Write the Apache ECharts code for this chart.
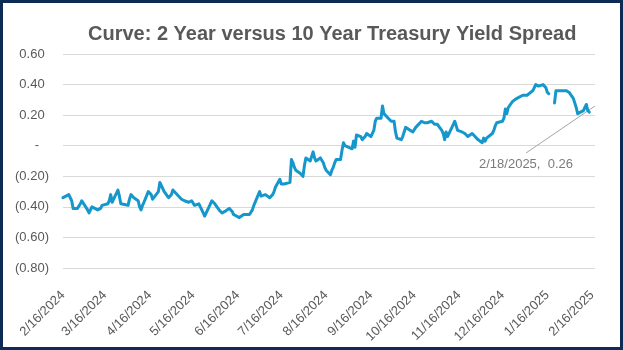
<!DOCTYPE html>
<html><head><meta charset="utf-8">
<script src="https://cdn.jsdelivr.net/npm/echarts@6/dist/echarts.min.js"></script>
<style>
html,body{margin:0;padding:0;background:#fff}
#c{width:623px;height:350px;position:absolute;left:0;top:0}
#frame{position:absolute;left:0;top:0;width:623px;height:350px;box-sizing:border-box;border:3px solid #0D2B55;pointer-events:none}
</style></head><body><div id="c"></div><div id="frame"></div>
<script>
const titleText = 'Curve: 2 Year versus 10 Year Treasury Yield Spread';

const dates = [
'2024-02-16','2024-02-20','2024-02-21','2024-02-22','2024-02-23','2024-02-26','2024-02-27','2024-02-28','2024-02-29',
'2024-03-01','2024-03-04','2024-03-05','2024-03-06','2024-03-07','2024-03-08','2024-03-11','2024-03-12','2024-03-13','2024-03-14','2024-03-15','2024-03-18','2024-03-19','2024-03-20','2024-03-21','2024-03-22','2024-03-25','2024-03-26','2024-03-27','2024-03-28',
'2024-04-01','2024-04-02','2024-04-03','2024-04-04','2024-04-05','2024-04-08','2024-04-09','2024-04-10','2024-04-11','2024-04-12','2024-04-15','2024-04-16','2024-04-17','2024-04-18','2024-04-19','2024-04-22','2024-04-23','2024-04-24','2024-04-25','2024-04-26','2024-04-29','2024-04-30',
'2024-05-01','2024-05-02','2024-05-03','2024-05-06','2024-05-07','2024-05-08','2024-05-09','2024-05-10','2024-05-13','2024-05-14','2024-05-15','2024-05-16','2024-05-17','2024-05-20','2024-05-21','2024-05-22','2024-05-23','2024-05-24','2024-05-28','2024-05-29','2024-05-30','2024-05-31',
'2024-06-03','2024-06-04','2024-06-05','2024-06-06','2024-06-07','2024-06-10','2024-06-11','2024-06-12','2024-06-13','2024-06-14','2024-06-17','2024-06-18','2024-06-20','2024-06-21','2024-06-24','2024-06-25','2024-06-26','2024-06-27','2024-06-28',
'2024-07-01','2024-07-02','2024-07-03','2024-07-05','2024-07-08','2024-07-09','2024-07-10','2024-07-11','2024-07-12','2024-07-15','2024-07-16','2024-07-17','2024-07-18','2024-07-19','2024-07-22','2024-07-23','2024-07-24','2024-07-25','2024-07-26','2024-07-29','2024-07-30','2024-07-31',
'2024-08-01','2024-08-02','2024-08-05','2024-08-06','2024-08-07','2024-08-08','2024-08-09','2024-08-12','2024-08-13','2024-08-14','2024-08-15','2024-08-16','2024-08-19','2024-08-20','2024-08-21','2024-08-22','2024-08-23','2024-08-26','2024-08-27','2024-08-28','2024-08-29','2024-08-30',
'2024-09-03','2024-09-04','2024-09-05','2024-09-06','2024-09-09','2024-09-10','2024-09-11','2024-09-12','2024-09-13','2024-09-16','2024-09-17','2024-09-18','2024-09-19','2024-09-20','2024-09-23','2024-09-24','2024-09-25','2024-09-26','2024-09-27','2024-09-30',
'2024-10-01','2024-10-02','2024-10-03','2024-10-04','2024-10-07','2024-10-08','2024-10-09','2024-10-10','2024-10-11','2024-10-15','2024-10-16','2024-10-17','2024-10-18','2024-10-21','2024-10-22','2024-10-23','2024-10-24','2024-10-25','2024-10-28','2024-10-29','2024-10-30','2024-10-31',
'2024-11-01','2024-11-04','2024-11-05','2024-11-06','2024-11-07','2024-11-08','2024-11-12','2024-11-13','2024-11-14','2024-11-15','2024-11-18','2024-11-19','2024-11-20','2024-11-21','2024-11-22','2024-11-25','2024-11-26','2024-11-27','2024-11-29',
'2024-12-02','2024-12-03','2024-12-04','2024-12-05','2024-12-06','2024-12-09','2024-12-10','2024-12-11','2024-12-12','2024-12-13','2024-12-16','2024-12-17','2024-12-18','2024-12-19','2024-12-20','2024-12-23','2024-12-24','2024-12-26','2024-12-27','2024-12-30','2024-12-31',
'2025-01-02','2025-01-03','2025-01-06','2025-01-07','2025-01-08','2025-01-09','2025-01-10','2025-01-13','2025-01-14','2025-01-15','2025-01-16','2025-01-17','2025-01-20','2025-01-21','2025-01-22','2025-01-23','2025-01-24','2025-01-27','2025-01-28','2025-01-29','2025-01-30','2025-01-31',
'2025-02-03','2025-02-04','2025-02-05','2025-02-06','2025-02-07','2025-02-10','2025-02-11','2025-02-12','2025-02-13','2025-02-14','2025-02-17','2025-02-18'
];

const spread = [
-0.34,-0.32,-0.31,-0.36,-0.41,-0.41,-0.40,-0.38,-0.36,
-0.36,-0.42,-0.44,-0.43,-0.40,-0.39,-0.42,-0.42,-0.41,-0.39,-0.40,-0.38,-0.36,-0.32,-0.37,-0.35,-0.29,-0.33,-0.38,-0.39,
-0.39,-0.35,-0.32,-0.32,-0.34,-0.36,-0.40,-0.42,-0.39,-0.37,-0.30,-0.29,-0.32,-0.35,-0.35,-0.30,-0.24,-0.25,-0.28,-0.30,-0.34,-0.35,
-0.32,-0.29,-0.30,-0.33,-0.34,-0.35,-0.36,-0.36,-0.37,-0.37,-0.36,-0.36,-0.39,-0.38,-0.39,-0.42,-0.44,-0.46,-0.38,-0.36,-0.36,-0.38,
-0.42,-0.43,-0.44,-0.43,-0.43,-0.41,-0.40,-0.43,-0.45,-0.46,-0.47,-0.47,-0.45,-0.45,-0.45,-0.45,-0.42,-0.39,-0.38,
-0.30,-0.33,-0.34,-0.32,-0.34,-0.33,-0.32,-0.30,-0.27,-0.22,-0.25,-0.26,-0.25,-0.24,-0.24,-0.09,-0.11,-0.14,-0.16,-0.18,-0.19,-0.20,
-0.13,-0.08,-0.10,-0.07,-0.04,-0.08,-0.10,-0.08,-0.09,-0.11,-0.14,-0.16,-0.19,-0.16,-0.14,-0.11,-0.09,-0.09,-0.03,0.02,0.00,0.00,
-0.02,0.03,-0.01,0.07,0.06,0.04,0.03,0.06,0.08,0.06,0.06,0.10,0.16,0.18,0.18,0.26,0.21,0.20,0.19,0.16,
0.15,0.16,0.09,0.05,0.04,0.06,0.09,0.12,0.12,0.09,0.10,0.12,0.13,0.16,0.16,0.15,0.14,0.15,0.16,0.16,0.14,0.13,
0.14,0.10,0.08,0.04,0.09,0.06,0.14,0.16,0.13,0.10,0.09,0.08,0.08,0.07,0.06,0.08,0.08,0.06,0.04,
0.02,0.05,0.03,0.05,0.05,0.08,0.10,0.13,0.15,0.15,0.16,0.18,0.24,0.21,0.25,0.29,0.29,0.31,0.31,0.33,0.32,
0.33,0.33,0.36,0.38,0.40,0.41,0.39,0.40,0.40,0.38,0.35,0.34,null,0.28,0.36,0.36,0.36,0.36,0.36,0.36,0.35,0.35,
0.31,0.28,0.25,0.21,0.21,0.23,0.25,0.27,0.23,0.22,null,0.26
];

const tickDates = ['2024-02-16','2024-03-16','2024-04-16','2024-05-16','2024-06-16','2024-07-16','2024-08-16','2024-09-16','2024-10-16','2024-11-16','2024-12-16','2025-01-16','2025-02-16'];
const axisStart = '2024-02-16';
const axisEnd = '2025-02-18';
const yMin = -0.8, yMax = 0.6, yStep = 0.2;

function ts(s){ const p = s.split('-').map(Number); return new Date(p[0], p[1]-1, p[2]).getTime(); }
function mdY(v){ const d = new Date(v); return (d.getMonth()+1) + '/' + d.getDate() + '/' + d.getFullYear(); }

const FONT = '"Liberation Sans", Arial, sans-serif';
const GREY = '#595959';
const last = dates.length - 1;
const calloutAnchor = [526, 153];

const chart = echarts.init(document.getElementById('c'), null, {renderer:'canvas'});
chart.setOption({
  animation: false,
  backgroundColor: '#fff',
  title: {
    text: titleText, left: 88, top: 24, padding: 0,
    textStyle: {fontFamily: FONT, fontSize: 20, fontWeight: 'bold', color: GREY}
  },
  grid: {left: 63, right: 28, top: 54, bottom: 82, containLabel: false},
  xAxis: {
    type: 'value', min: ts(axisStart), max: ts(axisEnd), scale: true,
    axisLine: {show: false}, axisTick: {show: false}, splitLine: {show: false},
    axisLabel: {
      customValues: tickDates.map(ts), formatter: v => mdY(v),
      rotate: 45, align: 'right', verticalAlign: 'middle', margin: 25,
      color: GREY, fontSize: 13, fontFamily: FONT, hideOverlap: false
    }
  },
  yAxis: {
    type: 'value', min: yMin, max: yMax, interval: yStep,
    axisLine: {show: false}, axisTick: {show: false},
    splitLine: {lineStyle: {color: '#D9D9D9', width: 1}},
    axisLabel: {
      margin: 14, align: 'right',
      formatter: v => {
        if (Math.abs(v) < 1e-9) return '{z|-}';
        if (v > 0) return '{n|' + v.toFixed(2) + '}{h|)}';
        return '{n|(' + Math.abs(v).toFixed(2) + ')}';
      },
      rich: {
        n: {color: GREY, fontSize: 13, fontFamily: FONT},
        h: {color: 'rgba(0,0,0,0)', fontSize: 13, fontFamily: FONT},
        z: {color: GREY, fontSize: 13, fontFamily: FONT, padding: [0, 10, 0, 0]}
      }
    }
  },
  series: [
    {
      type: 'line', name: 'Spread',
      data: dates.map((d, i) => [ts(d), spread[i]]),
      showSymbol: false, connectNulls: false,
      lineStyle: {color: '#1597CB', width: 3, join: 'round', cap: 'round'},
      itemStyle: {color: '#1597CB'}
    },
    {
      type: 'scatter', name: 'callout',
      data: [[ts(dates[last]), spread[last]]],
      symbolSize: 2, itemStyle: {color: 'rgba(0,0,0,0)'},
      label: {
        show: true, formatter: mdY(ts(dates[last])) + ',  ' + spread[last].toFixed(2),
        color: GREY, fontSize: 13, fontFamily: FONT
      },
      labelLayout: {x: calloutAnchor[0], y: calloutAnchor[1] + 5, align: 'center', verticalAlign: 'top'}
    }
  ]
});

// leader line from the callout label to the data point it describes
const pt = chart.convertToPixel({gridIndex: 0}, [ts(dates[last]), spread[last]]);
chart.setOption({
  graphic: [{
    type: 'line', silent: true,
    shape: {x1: calloutAnchor[0], y1: calloutAnchor[1], x2: pt[0], y2: pt[1]},
    style: {stroke: '#A6A6A6', lineWidth: 1}
  }]
});
</script></body></html>
